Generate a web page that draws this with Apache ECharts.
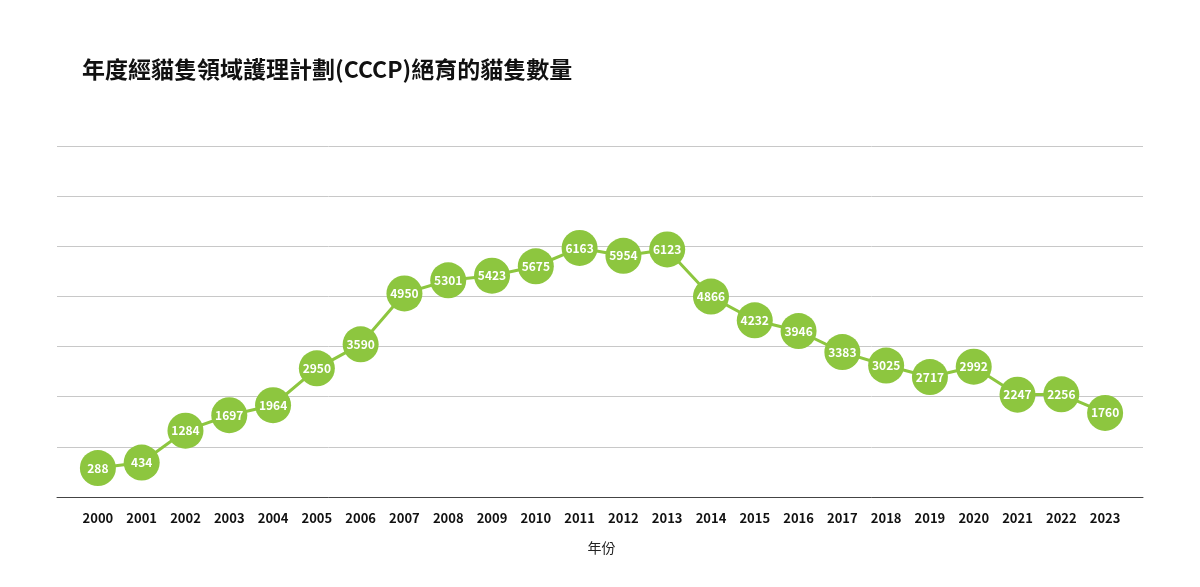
<!DOCTYPE html>
<html>
<head>
<meta charset="utf-8">
<script src="https://cdn.jsdelivr.net/npm/echarts@6/dist/echarts.min.js"></script>
<style>html,body{margin:0;padding:0;background:#fff}#main{width:1200px;height:587px}</style>
</head>
<body>
<div id="main"></div>
<script>
// 資料
const years = ['2000','2001','2002','2003','2004','2005','2006','2007','2008','2009','2010','2011',
  '2012','2013','2014','2015','2016','2017','2018','2019','2020','2021','2022','2023'];
const cats = [288,434,1284,1697,1964,2950,3590,4950,5301,5423,5675,6163,
  5954,6123,4866,4232,3946,3383,3025,2717,2992,2247,2256,1760];
const gridTicks = [0,1,2,3,4,5,6,7];

const green = '#8dc63f';
const font = '"Noto Sans CJK TC", "Noto Sans", sans-serif';

const chart = echarts.init(document.getElementById('main'));
chart.setOption({
  animation: false,
  title: {
    text: '年度經貓隻領域護理計劃(CCCP)絕育的貓隻數量',
    left: 77, top: 53,
    textStyle: { fontFamily: font, fontSize: 23, fontWeight: 'bold', color: '#111' }
  },
  grid: [
    { left: 57, right: 57, top: 146, bottom: 90 },   // 背景格線
    { left: 76, right: 73, top: 146, bottom: 90 }    // 資料
  ],
  xAxis: [
    {
      gridIndex: 0, type: 'value', min: 0, max: 1,
      axisLine: { show: true, lineStyle: { color: '#444', width: 1 } },
      axisLabel: { show: false }, axisTick: { show: false }, splitLine: { show: false }
    },
    {
      gridIndex: 1, type: 'category', data: years,
      name: '年份', nameLocation: 'middle', nameGap: 44,
      nameTextStyle: { fontFamily: font, fontSize: 14, color: '#222' },
      axisLine: { show: false }, axisTick: { show: false },
      axisLabel: { fontFamily: font, fontSize: 13, fontWeight: 'bold', color: '#111', margin: 15 }
    }
  ],
  yAxis: [
    {
      gridIndex: 0, type: 'value', min: 0, max: gridTicks[gridTicks.length - 1], interval: 1,
      axisLabel: { show: false }, axisTick: { show: false },
      axisLine: { show: false },
      splitLine: { lineStyle: { color: '#c8c8c8', width: 1 } }
    },
    {
      gridIndex: 1, type: 'value', min: -486, max: 8886, show: false,
      splitLine: { show: false }
    }
  ],
  series: [
    {
      type: 'line', xAxisIndex: 0, yAxisIndex: 0, data: [], silent: true
    },
    {
      type: 'line', xAxisIndex: 1, yAxisIndex: 1, data: cats,
      symbol: 'circle', symbolSize: 36,
      lineStyle: { color: green, width: 3 },
      itemStyle: { color: green },
      label: {
        show: true, position: 'inside', color: '#fff',
        fontFamily: font, fontSize: 12, fontWeight: 'bold'
      }
    }
  ]
});
</script>
</body>
</html>
